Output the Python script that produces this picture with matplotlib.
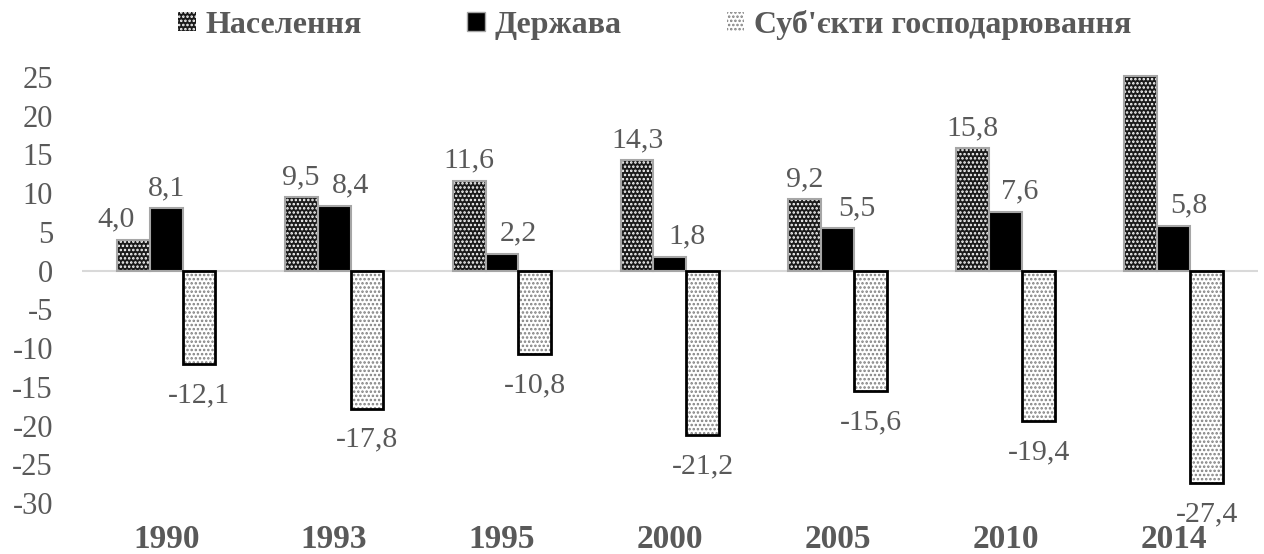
import matplotlib
matplotlib.use("Agg")
import matplotlib.pyplot as plt
from matplotlib.patches import Patch
import numpy as np

# Дані
years = ["1990", "1993", "1995", "2000", "2005", "2010", "2014"]
naselennia = [4.0, 9.5, 11.6, 14.3, 9.2, 15.8, 25.1]
derzhava = [8.1, 8.4, 2.2, 1.8, 5.5, 7.6, 5.8]
subiekty = [-12.1, -17.8, -10.8, -21.2, -15.6, -19.4, -27.4]
names = ["Населення", "Держава", "Суб'єкти господарювання"]

# зсуви підписів (у пунктах), щоб не налазили один на одного
dx_nas = [-12, 0, 0, 0, 0, 0, 0]
dx_der = [0, 12, 12, 12, 14, 10, 11]

plt.rcParams['font.family'] = ['Liberation Serif', 'DejaVu Serif']
plt.rcParams['axes.unicode_minus'] = False
plt.rcParams['hatch.linewidth'] = 1.2
grey = '#595959'

fig = plt.figure(figsize=(12.64, 5.54), dpi=100)
ax = fig.add_axes([0.065, 0.092, 0.93, 0.769])

x = np.arange(len(years))
w = 0.196

# Населення - темна заливка з білими крапками
ax.bar(x - w, naselennia, w, color='#1a1a1a', edgecolor='white', hatch='....', linewidth=0, clip_on=False)
ax.bar(x - w, naselennia, w, fill=False, edgecolor='#a6a6a6', linewidth=1.5, clip_on=False)
# Держава - чорна
ax.bar(x, derzhava, w, color='black', edgecolor='#a6a6a6', linewidth=1.5)
# Суб'єкти - біла з сірими крапками
ax.bar(x + w, subiekty, w, color='white', edgecolor='#7f7f7f', hatch='....', linewidth=0)
ax.bar(x + w, subiekty, w, fill=False, edgecolor='black', linewidth=2)

# Підписи значень
def lbl(v):
    return f"{v:.1f}".replace('.', ',')

fs = 21.5
for i in range(len(years)):
    ax.annotate(lbl(naselennia[i]), (x[i] - w, naselennia[i]), xytext=(dx_nas[i], 5), textcoords='offset points',
                ha='center', va='bottom', fontsize=fs, color=grey)
    ax.annotate(lbl(derzhava[i]), (x[i], derzhava[i]), xytext=(dx_der[i], 5), textcoords='offset points',
                ha='center', va='bottom', fontsize=fs, color=grey)
    ax.annotate(lbl(subiekty[i]), (x[i] + w, subiekty[i]), xytext=(0, -13), textcoords='offset points',
                ha='center', va='top', fontsize=fs, color=grey)

ax.axhline(0, color='#d9d9d9', linewidth=1.5, zorder=0)
ax.set_xlim(-0.5, len(years) - 0.5)
ax.set_ylim(-30, 25)
ax.set_yticks(range(-30, 26, 5))
ax.set_xticks(x)
ax.set_xticklabels(years, fontweight='bold', fontsize=24, color=grey)
ax.tick_params(axis='y', labelsize=22, labelcolor=grey, length=0, pad=21)
ax.tick_params(axis='x', length=0, pad=15)
for s in ax.spines.values():
    s.set_visible(False)

# Легенда
handles = [
    Patch(facecolor='#1a1a1a', edgecolor='white', hatch='....', linewidth=0),
    Patch(facecolor='black', edgecolor='#a6a6a6'),
    Patch(facecolor='white', edgecolor='#7f7f7f', hatch='....', linewidth=0),
]
leg = fig.legend(handles, names, loc='center', bbox_to_anchor=(0.518, 0.955), ncol=3, frameon=False,
                 prop={'weight': 'bold', 'size': 23}, handlelength=0.55, handleheight=0.55,
                 handletextpad=0.3, columnspacing=3.3)
for t in leg.get_texts():
    t.set_color(grey)

plt.savefig("out.png", dpi=100)
